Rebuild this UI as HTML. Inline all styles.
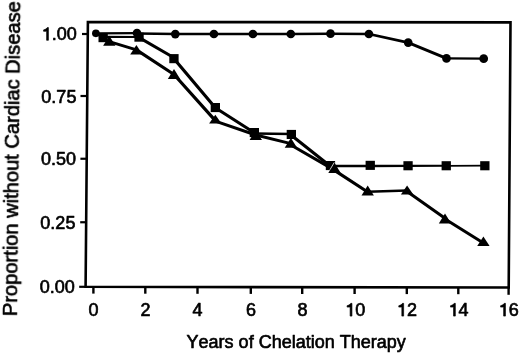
<!DOCTYPE html>
<html><head><meta charset="utf-8"><title>Chart</title>
<style>html,body{margin:0;padding:0;background:#fff}svg{display:block}text{font-family:"Liberation Sans",sans-serif;fill:#000;font-kerning:none}</style></head>
<body>
<svg width="520" height="355" viewBox="0 0 520 355">
<rect width="520" height="355" fill="#fff"/>
<g id="plot" filter="url(#soft)">
<polygon points="87.9,22.0 510.5,22.4 508.7,287.5 85.6,286.8" fill="none" stroke="#000" stroke-width="2.6" stroke-linejoin="miter"/>
<line x1="82.0" y1="34.0" x2="88.0" y2="34.0" stroke="#000" stroke-width="2.2"/>
<line x1="80.5" y1="96.0" x2="87.2" y2="96.0" stroke="#000" stroke-width="2.2"/>
<line x1="80.4" y1="158.75" x2="86.8" y2="158.75" stroke="#000" stroke-width="2.2"/>
<line x1="80.2" y1="222.25" x2="86.2" y2="222.25" stroke="#000" stroke-width="2.2"/>
<line x1="79.2" y1="286.8" x2="85.6" y2="286.8" stroke="#000" stroke-width="2.2"/>
<line x1="93.4" y1="286.8" x2="93.4" y2="293.6" stroke="#000" stroke-width="2.4"/>
<line x1="145.3" y1="286.9" x2="145.3" y2="293.7" stroke="#000" stroke-width="2.4"/>
<line x1="197.5" y1="287.0" x2="197.5" y2="293.8" stroke="#000" stroke-width="2.4"/>
<line x1="250.8" y1="287.1" x2="250.8" y2="293.9" stroke="#000" stroke-width="2.4"/>
<line x1="302.2" y1="287.2" x2="302.2" y2="294.0" stroke="#000" stroke-width="2.4"/>
<line x1="354.6" y1="287.2" x2="354.6" y2="294.0" stroke="#000" stroke-width="2.4"/>
<line x1="406.8" y1="287.3" x2="406.8" y2="294.1" stroke="#000" stroke-width="2.4"/>
<line x1="458.3" y1="287.4" x2="458.3" y2="294.2" stroke="#000" stroke-width="2.4"/>
<line x1="508.6" y1="287.5" x2="508.6" y2="294.8" stroke="#000" stroke-width="2.4"/>
<line x1="96.1" y1="33.3" x2="137.0" y2="33.1" stroke="#000" stroke-width="2.3" stroke-linecap="round"/>
<line x1="137.0" y1="33.4" x2="175.3" y2="34.1" stroke="#000" stroke-width="2.5" stroke-linecap="round"/>
<line x1="175.3" y1="34.1" x2="213.9" y2="34.0" stroke="#000" stroke-width="2.5" stroke-linecap="round"/>
<line x1="213.9" y1="34.0" x2="252.9" y2="34.0" stroke="#000" stroke-width="2.5" stroke-linecap="round"/>
<line x1="252.9" y1="34.0" x2="290.8" y2="34.0" stroke="#000" stroke-width="2.5" stroke-linecap="round"/>
<line x1="290.8" y1="34.0" x2="330.5" y2="33.8" stroke="#000" stroke-width="2.5" stroke-linecap="round"/>
<line x1="330.5" y1="33.8" x2="368.9" y2="34.0" stroke="#000" stroke-width="2.5" stroke-linecap="round"/>
<line x1="368.9" y1="34.0" x2="408.2" y2="42.6" stroke="#000" stroke-width="2.7" stroke-linecap="round"/>
<line x1="408.2" y1="42.6" x2="446.5" y2="58.4" stroke="#000" stroke-width="2.9" stroke-linecap="round"/>
<line x1="446.5" y1="58.4" x2="483.7" y2="58.7" stroke="#000" stroke-width="2.3" stroke-linecap="round"/>
<line x1="103.2" y1="36.8" x2="138.7" y2="37.0" stroke="#000" stroke-width="2.2" stroke-linecap="round"/>
<line x1="139.2" y1="37.6" x2="174.0" y2="57.8" stroke="#000" stroke-width="3.0" stroke-linecap="round"/>
<line x1="174.0" y1="58.8" x2="215.3" y2="107.7" stroke="#000" stroke-width="3.2" stroke-linecap="round"/>
<line x1="215.3" y1="107.7" x2="254.3" y2="132.7" stroke="#000" stroke-width="3.1" stroke-linecap="round"/>
<line x1="254.3" y1="133.6" x2="291.3" y2="134.0" stroke="#000" stroke-width="2.5" stroke-linecap="round"/>
<line x1="291.3" y1="135.3" x2="330.4" y2="166.3" stroke="#000" stroke-width="3.1" stroke-linecap="round"/>
<line x1="330.4" y1="166.0" x2="370.2" y2="166.0" stroke="#000" stroke-width="2.4" stroke-linecap="round"/>
<line x1="370.2" y1="166.0" x2="408.0" y2="165.9" stroke="#000" stroke-width="2.3" stroke-linecap="round"/>
<line x1="408.0" y1="165.9" x2="446.2" y2="165.8" stroke="#000" stroke-width="2.1" stroke-linecap="round"/>
<line x1="446.2" y1="165.8" x2="484.8" y2="165.7" stroke="#000" stroke-width="1.8" stroke-linecap="round"/>
<line x1="109.3" y1="41.7" x2="136.5" y2="49.9" stroke="#000" stroke-width="2.9" stroke-linecap="round"/>
<line x1="136.5" y1="49.9" x2="174.0" y2="74.5" stroke="#000" stroke-width="3.1" stroke-linecap="round"/>
<line x1="174.0" y1="74.5" x2="215.3" y2="120.6" stroke="#000" stroke-width="3.2" stroke-linecap="round"/>
<line x1="215.3" y1="121.2" x2="255.8" y2="135.0" stroke="#000" stroke-width="3.0" stroke-linecap="round"/>
<line x1="255.8" y1="135.0" x2="290.9" y2="143.6" stroke="#000" stroke-width="2.9" stroke-linecap="round"/>
<line x1="290.9" y1="145.0" x2="334.5" y2="170.2" stroke="#000" stroke-width="3.1" stroke-linecap="round"/>
<line x1="334.5" y1="170.4" x2="367.7" y2="192.0" stroke="#000" stroke-width="3.1" stroke-linecap="round"/>
<line x1="367.7" y1="191.8" x2="407.1" y2="190.6" stroke="#000" stroke-width="2.5" stroke-linecap="round"/>
<line x1="407.1" y1="191.5" x2="445.0" y2="218.2" stroke="#000" stroke-width="3.0" stroke-linecap="round"/>
<line x1="445.0" y1="218.9" x2="483.4" y2="243.0" stroke="#000" stroke-width="3.0" stroke-linecap="round"/>
<circle cx="95.9" cy="33.3" r="3.85"/>
<circle cx="137.0" cy="33.1" r="4.35"/>
<circle cx="175.3" cy="34.1" r="4.35"/>
<circle cx="213.9" cy="34.0" r="4.35"/>
<circle cx="252.9" cy="34.0" r="4.35"/>
<circle cx="290.8" cy="34.0" r="4.35"/>
<circle cx="330.5" cy="33.7" r="4.35"/>
<circle cx="368.9" cy="34.0" r="4.35"/>
<circle cx="408.2" cy="42.6" r="4.35"/>
<circle cx="446.5" cy="58.4" r="4.35"/>
<circle cx="483.7" cy="58.7" r="4.35"/>
<rect x="98.5" y="33.1" width="9.3" height="9.100000000000001"/>
<rect x="134.4" y="32.6" width="9.3" height="9.100000000000001"/>
<rect x="169.3" y="54.1" width="9.3" height="9.100000000000001"/>
<rect x="210.7" y="103.0" width="9.3" height="9.100000000000001"/>
<rect x="249.7" y="128.0" width="9.3" height="9.100000000000001"/>
<rect x="286.7" y="129.9" width="9.3" height="9.100000000000001"/>
<rect x="325.8" y="161.0" width="9.3" height="9.100000000000001"/>
<rect x="365.6" y="160.8" width="9.3" height="9.100000000000001"/>
<rect x="403.4" y="161.2" width="9.3" height="9.100000000000001"/>
<rect x="441.6" y="161.2" width="9.3" height="9.100000000000001"/>
<rect x="480.2" y="161.2" width="9.3" height="9.100000000000001"/>
<polygon points="109.3,35.8 115.5,45.8 103.1,45.8"/>
<polygon points="136.4,45.1 142.6,54.6 130.2,54.6"/>
<polygon points="174.0,68.9 180.2,78.9 167.8,78.9"/>
<polygon points="215.3,114.7 221.5,123.6 209.1,123.6"/>
<polygon points="255.8,130.1 262.0,140.1 249.6,140.1"/>
<polygon points="290.9,138.0 297.1,147.7 284.7,147.7"/>
<polygon points="334.5,162.7 340.7,173.0 328.3,173.0"/>
<polygon points="367.7,185.5 373.9,195.5 361.5,195.5"/>
<polygon points="407.1,185.5 413.3,194.6 400.9,194.6"/>
<polygon points="445.0,213.4 451.2,223.4 438.8,223.4"/>
<polygon points="483.4,236.4 489.6,246.1 477.2,246.1"/>
<line x1="334.3" y1="162.4" x2="329.9" y2="169.8" stroke="#fff" stroke-width="0.8"/>
</g>
<g id="labels" filter="url(#soft)" stroke="#000" stroke-width="0.65" stroke-linejoin="round">
<path d="M47.32,27.55 L48.42,27.55 L48.42,40.30 L46.62,40.30 L46.62,31.30 L43.57,31.30 L43.57,29.90 Q46.12,29.55 47.32,27.55 Z"/>
<text x="51.68" y="40.3" font-size="18">.00</text>
<text x="41.37" y="102.6" font-size="18">0.75</text>
<text x="40.97" y="165.3" font-size="18">0.50</text>
<text x="40.37" y="229.1" font-size="18">0.25</text>
<text x="39.77" y="292.8" font-size="18">0.00</text>
<text x="88.40" y="316.1" font-size="18">0</text>
<text x="140.59" y="316.1" font-size="18">2</text>
<text x="192.50" y="316.1" font-size="18">4</text>
<text x="245.90" y="316.1" font-size="18">6</text>
<text x="297.50" y="316.1" font-size="18">8</text>
<path d="M350.84,303.35 L351.94,303.35 L351.94,316.10 L350.14,316.10 L350.14,307.10 L347.09,307.10 L347.09,305.70 Q349.64,305.35 350.84,303.35 Z"/>
<text x="355.20" y="316.1" font-size="18">0</text>
<path d="M402.54,303.35 L403.64,303.35 L403.64,316.10 L401.84,316.10 L401.84,307.10 L398.79,307.10 L398.79,305.70 Q401.34,305.35 402.54,303.35 Z"/>
<text x="406.90" y="316.1" font-size="18">2</text>
<path d="M454.24,303.35 L455.34,303.35 L455.34,316.10 L453.54,316.10 L453.54,307.10 L450.49,307.10 L450.49,305.70 Q453.04,305.35 454.24,303.35 Z"/>
<text x="458.60" y="316.1" font-size="18">4</text>
<path d="M504.34,303.35 L505.44,303.35 L505.44,316.10 L503.64,316.10 L503.64,307.10 L500.59,307.10 L500.59,305.70 Q503.14,305.35 504.34,303.35 Z"/>
<text x="508.70" y="316.1" font-size="18">6</text>
<text x="186.6" y="347.6" font-size="18">Years of Chelation Therapy</text>
<text transform="translate(16.9,316.2) rotate(-89.38)" font-size="20.1">Proportion without Cardiac Disease</text>
</g>
<defs><filter id="soft" x="-5%" y="-5%" width="110%" height="110%"><feGaussianBlur stdDeviation="0.35"/></filter></defs>
</svg>
</body></html>
